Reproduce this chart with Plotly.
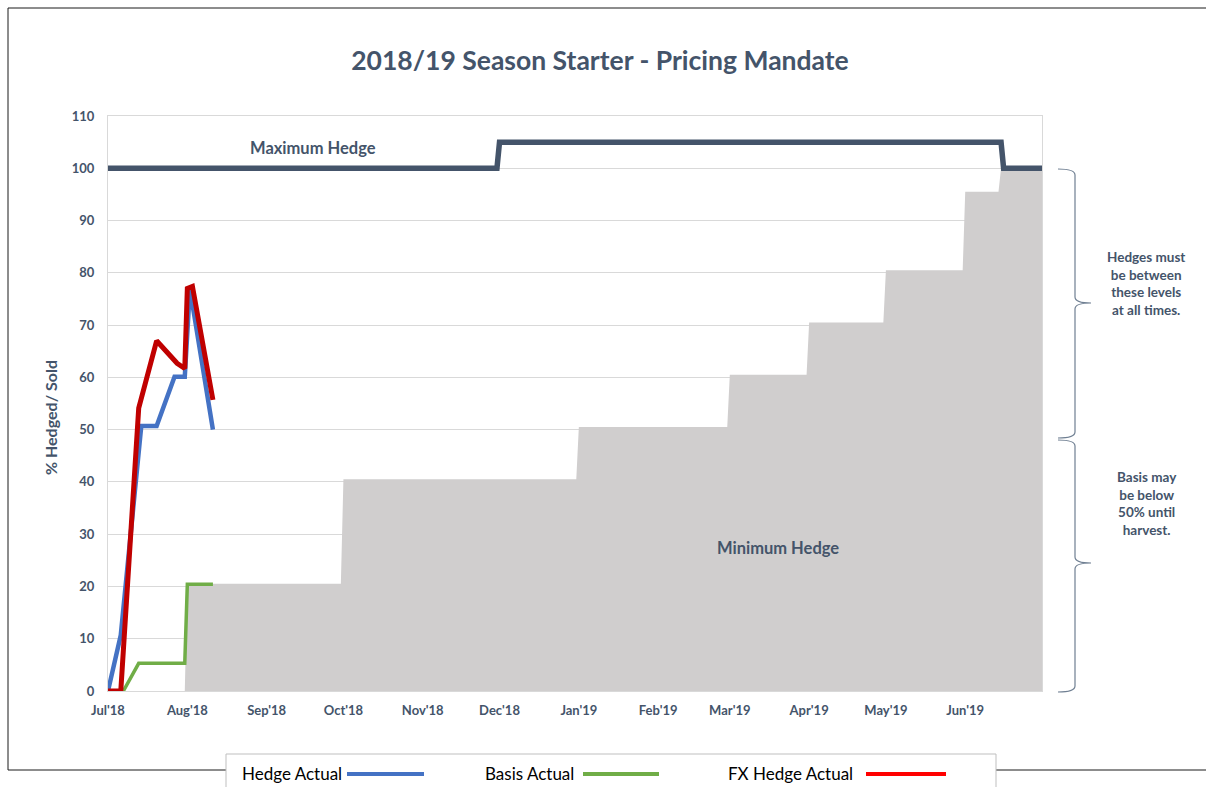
import plotly.graph_objects as go

# ---------------- data ----------------
min_dates = ["2018-07-01", "2018-07-31", "2018-08-01", "2018-09-30", "2018-10-01",
             "2018-12-31", "2019-01-01", "2019-02-28", "2019-03-01", "2019-03-31",
             "2019-04-01", "2019-04-30", "2019-05-01", "2019-05-31", "2019-06-01",
             "2019-06-14", "2019-06-15", "2019-07-01"]
min_values = [0, 0, 20.5, 20.5, 40.5, 40.5, 50.5, 50.5, 60.5, 60.5,
              70.5, 70.5, 80.5, 80.5, 95.5, 95.5, 100, 100]

max_dates = ["2018-07-01", "2018-11-30", "2018-12-01", "2019-06-15", "2019-06-16", "2019-07-01"]
max_values = [100, 100, 105, 105, 100, 100]

hedge_dates = ["2018-07-01", "2018-07-06", "2018-07-14", "2018-07-20", "2018-07-27",
               "2018-07-31", "2018-08-02", "2018-08-11"]
hedge_values = [0, 10.7, 50.7, 50.7, 60.1, 60.1, 77, 50]

basis_dates = ["2018-07-01", "2018-07-07", "2018-07-13", "2018-07-31", "2018-08-01", "2018-08-11"]
basis_values = [0, 0, 5.3, 5.3, 20.4, 20.4]

fx_dates = ["2018-07-01", "2018-07-06", "2018-07-13", "2018-07-20", "2018-07-28",
            "2018-07-31", "2018-08-01", "2018-08-03", "2018-08-11"]
fx_values = [0, 0, 54.1, 67, 62.7, 61.7, 77, 77.4, 55.7]

tick_dates = ["2018-07-01", "2018-08-01", "2018-09-01", "2018-10-01", "2018-11-01",
              "2018-12-01", "2019-01-01", "2019-02-01", "2019-03-01", "2019-04-01",
              "2019-05-01", "2019-06-01"]
tick_labels = ["Jul'18", "Aug'18", "Sep'18", "Oct'18", "Nov'18", "Dec'18",
               "Jan'19", "Feb'19", "Mar'19", "Apr'19", "May'19", "Jun'19"]

# ---------------- styling ----------------
W, H = 1206, 787
L, R, T, B = 108, 1042, 116, 691
SLATE = "#44546A"
FONT = "Lato"


def px_x(px):
    return (px - L) / (R - L)


def px_y(py):
    return (B - py) / (B - T)


fig = go.Figure()
fig.add_trace(go.Scatter(x=min_dates, y=min_values, mode="lines", fill="tozeroy",
                         fillcolor="#D0CECE", line=dict(width=0, color="#D0CECE"),
                         name="Minimum Hedge", showlegend=False))
fig.add_trace(go.Scatter(x=max_dates, y=max_values, mode="lines",
                         line=dict(width=5.5, color=SLATE), name="Maximum Hedge", showlegend=False))
fig.add_trace(go.Scatter(x=hedge_dates, y=hedge_values, mode="lines",
                         line=dict(width=4.5, color="#4472C4"), name="Hedge Actual", showlegend=False))
fig.add_trace(go.Scatter(x=basis_dates, y=basis_values, mode="lines",
                         line=dict(width=3.5, color="#70AD47"), name="Basis Actual", showlegend=False))
fig.add_trace(go.Scatter(x=fx_dates, y=fx_values, mode="lines",
                         line=dict(width=5, color="#C00000"), name="FX Hedge Actual", showlegend=False))

fig.update_layout(
    width=W, height=H,
    margin=dict(l=L, r=W - R, t=T, b=H - B, autoexpand=False),
    paper_bgcolor="white", plot_bgcolor="white",
    title=dict(text="<b>2018/19 Season Starter - Pricing Mandate</b>",
               x=600 / W, xanchor="center", y=1 - 61 / H, yanchor="middle",
               font=dict(family=FONT, size=26.5, color=SLATE)),
    showlegend=False,
    hovermode=False,
)
fig.update_xaxes(type="date", range=["2018-07-01", "2019-07-01"],
                 tickvals=tick_dates, ticktext=tick_labels,
                 tickfont=dict(family=FONT, size=13, color=SLATE, weight="bold"),
                 showgrid=False, zeroline=False, ticks="", ticklabelstandoff=7,
                 showline=True, linecolor="#D9D9D9", linewidth=1, mirror=True)
fig.update_yaxes(range=[0, 110], dtick=10, tick0=0,
                 tickfont=dict(family=FONT, size=13, color=SLATE, weight="bold"),
                 showgrid=True, gridcolor="#D9D9D9", gridwidth=1, zeroline=False,
                 ticks="", ticklabelstandoff=10,
                 showline=True, linecolor="#D9D9D9", linewidth=1, mirror=True)

ann = []
ann.append(dict(text="<b>% Hedged/ Sold</b>", xref="paper", yref="paper",
                x=px_x(50), y=px_y(418), xanchor="center", yanchor="middle",
                textangle=-90, showarrow=False,
                font=dict(family=FONT, size=16, color=SLATE)))
ann.append(dict(text="<b>Maximum Hedge</b>", xref="x", yref="y", x="2018-09-19", y=103.9,
                xanchor="center", yanchor="middle",
                showarrow=False, font=dict(family=FONT, size=16.5, color=SLATE)))
ann.append(dict(text="<b>Minimum Hedge</b>", xref="x", yref="y", x="2019-03-20", y=27.4,
                xanchor="center", yanchor="middle",
                showarrow=False, font=dict(family=FONT, size=16.5, color=SLATE)))
ann.append(dict(text="<b>Hedges must<br>be between<br>these levels<br>at all times.</b>",
                xref="paper", yref="paper", x=px_x(1146), y=px_y(283), showarrow=False,
                xanchor="center", yanchor="middle",
                align="center", font=dict(family=FONT, size=13.5, color=SLATE)))
ann.append(dict(text="<b>Basis may<br>be below<br>50% until<br>harvest.</b>",
                xref="paper", yref="paper", x=px_x(1147), y=px_y(503), showarrow=False,
                xanchor="center", yanchor="middle",
                align="center", font=dict(family=FONT, size=13.5, color=SLATE)))

shapes = []
# outer chart border
shapes.append(dict(type="rect", xref="paper", yref="paper", x0=px_x(8), x1=px_x(1215),
                   y0=px_y(770), y1=px_y(8), line=dict(color="#1a1a1a", width=1),
                   fillcolor="rgba(0,0,0,0)", layer="above"))


def brace(top, bottom, tip):
    xe, xs, xt = px_x(1058), px_x(1075), px_x(1091)
    r = 6 / (B - T)
    yt, yb, ym = px_y(top), px_y(bottom), px_y(tip)
    path = (f"M {xe},{yt} Q {xs},{yt} {xs},{yt - r} "
            f"L {xs},{ym + r} Q {xs},{ym} {xt},{ym} "
            f"Q {xs},{ym} {xs},{ym - r} "
            f"L {xs},{yb + r} Q {xs},{yb} {xe},{yb}")
    return dict(type="path", xref="paper", yref="paper", path=path,
                line=dict(color="#6F7F92", width=1.2), layer="above")


shapes.append(brace(169, 438, 303))
shapes.append(brace(440, 692, 563))

# custom legend box
shapes.append(dict(type="rect", xref="paper", yref="paper", x0=px_x(226), x1=px_x(996),
                   y0=px_y(800), y1=px_y(754), line=dict(color="#BFBFBF", width=1),
                   fillcolor="white", layer="above"))
legend_items = [("Hedge Actual", "#4472C4", 240, 347, 424),
                ("Basis Actual", "#70AD47", 483, 583, 659),
                ("FX Hedge Actual", "#FF0000", 726, 866, 946)]
for name, col, tx, l0, l1 in legend_items:
    ann.append(dict(text=name, xref="paper", yref="paper", x=px_x(tx), y=px_y(773),
                    xanchor="left", yanchor="middle", showarrow=False,
                    font=dict(family=FONT, size=17, color="#000000")))
    shapes.append(dict(type="line", xref="paper", yref="paper", x0=px_x(l0), x1=px_x(l1),
                       y0=px_y(774), y1=px_y(774), line=dict(color=col, width=4), layer="above"))

fig.update_layout(annotations=ann, shapes=shapes)

fig.write_html("out.html", config={"displayModeBar": False},
               post_script="document.body.style.margin='0';document.body.style.overflow='hidden';")
